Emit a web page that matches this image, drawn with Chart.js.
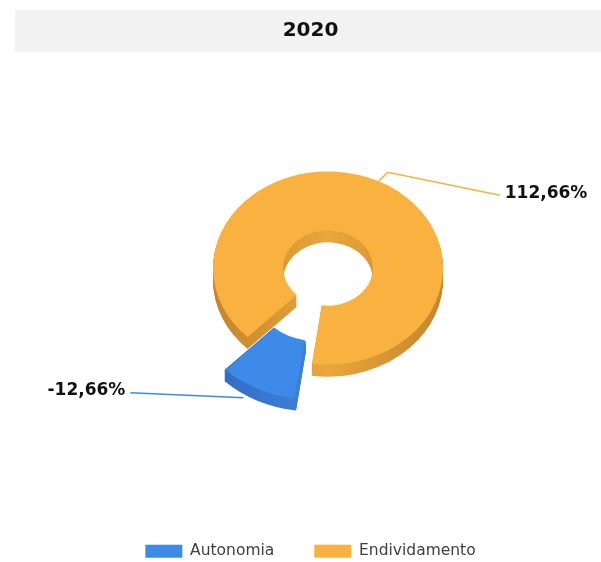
<!DOCTYPE html>
<html>
<head>
<meta charset="utf-8">
<script src="https://cdn.jsdelivr.net/npm/chart.js@4/dist/chart.umd.min.js"></script>
<style>
  html, body { margin: 0; padding: 0; background: #fff; }
  #wrap { width: 601px; height: 562px; }
</style>
</head>
<body>
<div id="wrap"><canvas id="myChart" width="601" height="562"></canvas></div>
<script>
// values
var chartTitle = '2020';
var labels = ['Autonomia', 'Endividamento'];
var values = [-12.66, 112.66];
var colors = ['#3D8AE9', '#F9B140'];
var sideColors = [['#2C66B8', '#3F82DA', '#2C66B8'], ['#C4862A', '#E9A63C', '#C4862A']];

function pct(v) {
	return v.toFixed(2).replace('.', ',') + '%';
}

// same shift chart.js applies to an offset arc: moved by offset/4,
// and both radii grown by that amount times (1 - sin(circumference))
function arcShift(arc) {
	var off = (arc.options.offset || 0) / 4;
	var circ = arc.endAngle - arc.startAngle;
	var grow = off * (1 - Math.sin(Math.min(Math.PI, circ)));
	return { move: off, grow: grow };
}

// grey band behind the title
var titleBand = {
	id: 'titleBand',
	beforeDraw: function (chart) {
		var ctx = chart.ctx;
		var b = chart.titleBlock;
		ctx.save();
		ctx.fillStyle = '#F2F2F2';
		ctx.fillRect(15, b.top, chart.width - 15, b.height);
		ctx.restore();
	}
};

// squash the doughnut and give it some thickness
var tilt3d = {
	id: 'tilt3d',
	beforeDatasetsDraw: function (chart, args, opts) {
		var ctx = chart.ctx;
		var meta = chart.getDatasetMeta(0);
		var cx = meta.data[0].x, cy = meta.data[0].y;
		ctx.save();
		ctx.translate(opts.x, opts.y);
		ctx.scale(1, opts.tilt);
		ctx.translate(-cx, -cy);
		meta.data.forEach(function (arc, i) {
			var s = arcShift(arc);
			var mid = (arc.startAngle + arc.endAngle) / 2;
			var ox = arc.x + Math.cos(mid) * s.move;
			var oy = arc.y + Math.sin(mid) * s.move;
			var ro = arc.outerRadius + s.grow, ri = arc.innerRadius + s.grow;
			var g = ctx.createLinearGradient(ox - ro, 0, ox + ro, 0);
			g.addColorStop(0, sideColors[i][0]);
			g.addColorStop(0.5, sideColors[i][1]);
			g.addColorStop(1, sideColors[i][2]);
			ctx.fillStyle = g;
			for (var d = opts.depth; d > 0; d--) {
				ctx.beginPath();
				ctx.arc(ox, oy + d / opts.tilt, ro, arc.startAngle, arc.endAngle);
				ctx.arc(ox, oy + d / opts.tilt, ri, arc.endAngle, arc.startAngle, true);
				ctx.closePath();
				ctx.fill();
			}
		});
	},
	afterDatasetsDraw: function (chart) {
		chart.ctx.restore();
	}
};

// value labels with leader lines
var outLabels = {
	id: 'outLabels',
	afterDraw: function (chart, args, opts) {
		var ctx = chart.ctx;
		var t = chart.options.plugins.tilt3d;
		var meta = chart.getDatasetMeta(0);
		meta.data.forEach(function (arc, i) {
			var l = opts.lines[i];
			var s = arcShift(arc);
			var mid = (arc.startAngle + arc.endAngle) / 2;
			var r = arc.outerRadius + s.move + s.grow;
			var ax = t.x + Math.cos(mid) * r + l.dx;
			var ay = t.y + Math.sin(mid) * r * t.tilt + l.dy;
			ctx.save();
			ctx.strokeStyle = colors[i];
			ctx.lineWidth = 1.5;
			ctx.beginPath();
			ctx.moveTo(ax, ay);
			if (l.ex !== undefined) ctx.lineTo(ax + l.ex, ay + l.ey);
			ctx.lineTo(ax + l.tx, ay + l.ty);
			ctx.stroke();
			ctx.fillStyle = '#111';
			ctx.font = 'bold 17px "DejaVu Sans"';
			ctx.textBaseline = 'middle';
			ctx.textAlign = l.tx < 0 ? 'right' : 'left';
			ctx.fillText(pct(values[i]), ax + l.tx + (l.tx < 0 ? -5 : 5), ay + l.ty - 2);
			ctx.restore();
		});
	}
};

var ctx = document.getElementById('myChart').getContext('2d');
var myChart = new Chart(ctx, {
	type: 'doughnut',
	data: {
		labels: labels,
		datasets: [{
			data: values,
			backgroundColor: colors,
			borderWidth: 0,
			offset: [128, 0],
			hoverOffset: 0,
			clip: false
		}]
	},
	options: {
		responsive: false,
		animation: false,
		events: [],
		rotation: 188,
		cutout: '39%',
		radius: 115,
		layout: { padding: { top: 10, left: 20, bottom: -7 } },
		plugins: {
			title: {
				display: true,
				text: chartTitle,
				color: '#111',
				font: { family: 'DejaVu Sans', size: 20, weight: 'bold' },
				padding: { top: 9, bottom: 9 }
			},
			legend: {
				position: 'bottom',
				labels: {
					boxWidth: 37,
					boxHeight: 13,
					padding: 40,
					color: '#404040',
					font: { family: 'DejaVu Sans', size: 15.5 }
				}
			},
			tooltip: { enabled: false },
			tilt3d: { x: 328, y: 268, tilt: 0.84, depth: 12 },
			outLabels: {
				lines: [
					{ dx: -14, dy: 9, tx: -113, ty: -5 },
					{ dx: 0, dy: 0, ex: 9, ey: -9, tx: 121, ty: 14 }
				]
			}
		}
	},
	plugins: [titleBand, tilt3d, outLabels]
});
</script>
</body>
</html>
